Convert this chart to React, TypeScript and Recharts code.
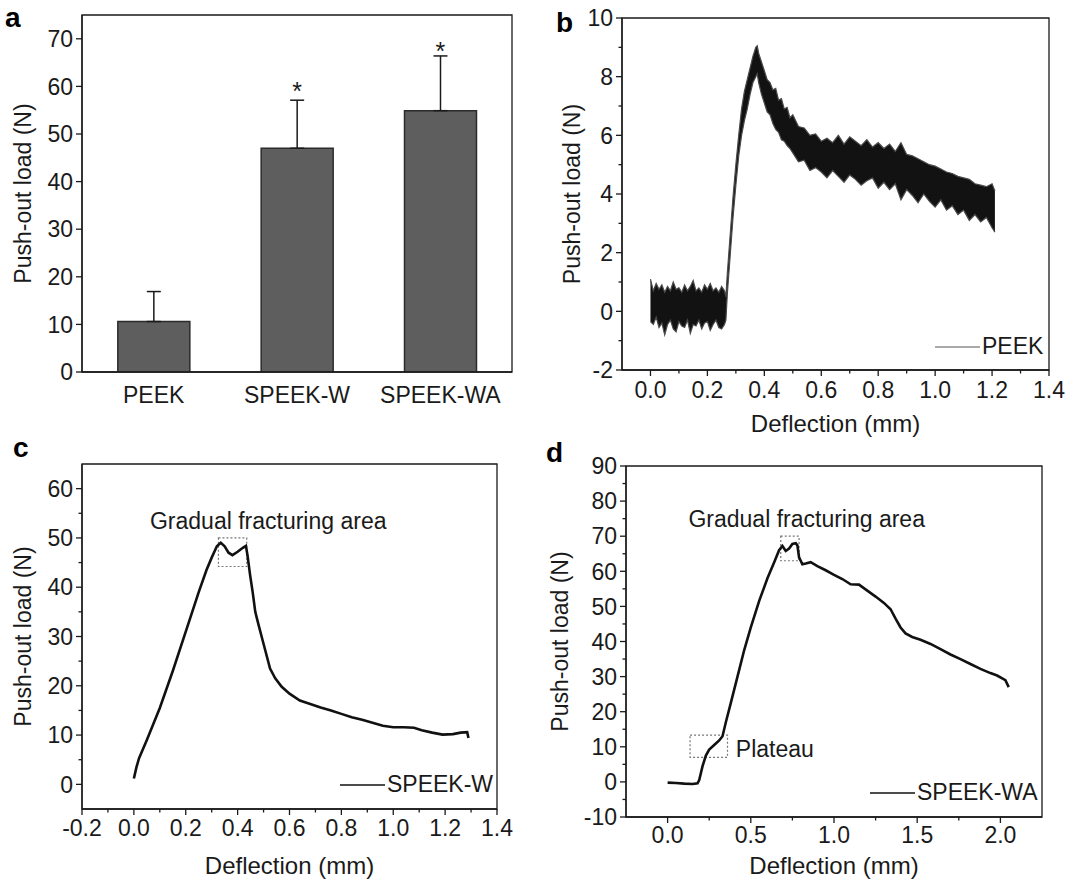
import React from 'react';
import {
  BarChart, Bar, ErrorBar, XAxis, YAxis, ComposedChart, Area, LineChart, Line,
  ReferenceArea, ReferenceDot, Legend,
} from 'recharts';

const FONT = '"Liberation Sans", Arial, Helvetica, sans-serif';
const INK = '#1a1a1a';
const TICK_FS = 23;
const TITLE_FS = 23;
const XTITLE_FS = 24;

// ---------- Panel a ----------
const barCategories = ['PEEK', 'SPEEK-W', 'SPEEK-WA'];
const barMeans = [10.6, 47.0, 54.9];
const barErrUp = [6.3, 10.1, 11.5];
const starHeights = [null, 59.8, 68.3];
const aYTicks = [0, 10, 20, 30, 40, 50, 60, 70];

// ---------- Panel b (PEEK, noisy band: lower / upper envelope) ----------
const bX = [
  0.00, 0.01, 0.02, 0.03, 0.04, 0.05, 0.06, 0.07, 0.08, 0.09, 0.10, 0.11, 0.12, 0.13,
  0.14, 0.15, 0.16, 0.17, 0.18, 0.19, 0.20, 0.21, 0.22, 0.23, 0.24, 0.25, 0.26,
  0.265, 0.27, 0.28, 0.29, 0.30, 0.31, 0.32, 0.33, 0.34, 0.35, 0.36, 0.37, 0.375,
  0.38, 0.39, 0.40, 0.41, 0.42, 0.43, 0.44, 0.45, 0.46, 0.47, 0.48, 0.49, 0.50,
  0.52, 0.54, 0.56, 0.58, 0.60, 0.62, 0.64, 0.66, 0.68, 0.70, 0.72, 0.74, 0.76, 0.78,
  0.80, 0.82, 0.84, 0.86, 0.88, 0.90, 0.92, 0.94, 0.96, 0.98, 1.00, 1.02, 1.04, 1.06,
  1.08, 1.10, 1.12, 1.14, 1.16, 1.18, 1.20, 1.21,
];
const bLow = [
  -0.35, -0.45, -0.2, -0.55, -0.4, -0.8, -0.45, -0.3, -0.6, -0.7, -0.35, -0.5, -0.55, -0.3,
  -0.75, -0.45, -0.5, -0.3, -0.6, -0.4, -0.35, -0.65, -0.45, -0.3, -0.55, -0.6, -0.45,
  -0.3, 0.6, 1.9, 3.2, 4.3, 5.3, 6.0, 6.5, 6.9, 7.4, 7.8, 8.0, 8.1,
  7.8, 7.4, 7.1, 6.8, 6.7, 6.4, 6.2, 6.1, 5.85, 5.8, 5.65, 5.55, 5.4,
  5.1, 5.15, 4.8, 4.9, 4.75, 4.55, 4.8, 4.6, 4.4, 4.65, 4.5, 4.3, 4.45, 4.55,
  4.2, 4.4, 4.15, 4.35, 3.8, 4.15, 3.95, 3.7, 4.0, 3.75, 3.55, 3.8, 3.45, 3.6,
  3.3, 3.45, 3.1, 3.3, 3.05, 3.2, 2.85, 2.7,
];
const bHigh = [
  1.1, 0.7, 0.95, 0.75, 0.9, 0.65, 0.85, 0.7, 1.0, 0.75, 0.8, 0.65, 0.9, 0.7,
  0.85, 1.05, 0.7, 0.8, 0.65, 0.9, 0.75, 0.95, 0.7, 0.8, 0.65, 0.85, 0.7,
  0.5, 1.3, 2.6, 3.9, 5.0, 6.0, 6.9, 7.5, 7.9, 8.3, 8.7, 9.0, 9.05,
  8.8, 8.5, 8.2, 7.9, 7.8, 7.55, 7.6, 7.2, 7.25, 6.9, 6.95, 6.6, 6.7,
  6.3, 6.25, 6.0, 6.05, 5.8, 5.9, 5.75, 6.0, 5.7, 5.95, 5.8, 5.65, 5.85, 5.6,
  5.75, 5.55, 5.7, 5.45, 5.75, 5.35, 5.3, 5.2, 5.1, 5.0, 4.95, 4.85, 4.75, 4.7,
  4.6, 4.55, 4.5, 4.35, 4.3, 4.25, 4.35, 4.1,
];
const bXTicks = [0, 0.1, 0.2, 0.3, 0.4, 0.5, 0.6, 0.7, 0.8, 0.9, 1.0, 1.1, 1.2, 1.3, 1.4];
const bXMajor = [0, 0.2, 0.4, 0.6, 0.8, 1.0, 1.2, 1.4];
const bYTicks = [-2, -1, 0, 1, 2, 3, 4, 5, 6, 7, 8, 9, 10];
const bYMajor = [-2, 0, 2, 4, 6, 8, 10];

// ---------- Panel c (SPEEK-W) ----------
const cX = [
  0.000, 0.010, 0.020, 0.050, 0.100, 0.150, 0.200, 0.250, 0.280, 0.300, 0.320, 0.335,
  0.350, 0.365, 0.380, 0.400, 0.420, 0.432, 0.438, 0.448, 0.458, 0.468, 0.480, 0.495,
  0.510, 0.525, 0.545, 0.570, 0.600, 0.640, 0.680, 0.720, 0.760, 0.800, 0.840, 0.880,
  0.920, 0.960, 1.000, 1.040, 1.080, 1.110, 1.150, 1.190, 1.230, 1.260, 1.285, 1.290,
];
const cY = [
  1.2, 3.5, 5.3, 9.0, 15.5, 23.0, 31.0, 39.0, 43.5, 46.0, 48.3, 49.0,
  48.3, 47.0, 46.5, 47.2, 48.0, 48.4, 46.5, 42.5, 39.0, 35.0, 32.5, 29.5,
  26.5, 23.5, 21.5, 19.8, 18.4, 17.0, 16.3, 15.6, 15.0, 14.3, 13.6, 13.1,
  12.5, 11.9, 11.6, 11.6, 11.5, 11.0, 10.5, 10.1, 10.2, 10.5, 10.6, 9.4,
];
const cXTicks = [-0.2, -0.1, 0, 0.1, 0.2, 0.3, 0.4, 0.5, 0.6, 0.7, 0.8, 0.9, 1.0, 1.1, 1.2, 1.3, 1.4];
const cXMajor = [-0.2, 0, 0.2, 0.4, 0.6, 0.8, 1.0, 1.2, 1.4];
const cYTicks = [0, 5, 10, 15, 20, 25, 30, 35, 40, 45, 50, 55, 60];
const cYMajor = [0, 10, 20, 30, 40, 50, 60];

// ---------- Panel d (SPEEK-WA) ----------
const dX = [
  0.00, 0.05, 0.10, 0.15, 0.18, 0.19, 0.21, 0.23, 0.25, 0.28, 0.31, 0.33, 0.35, 0.38,
  0.42, 0.46, 0.50, 0.55, 0.60, 0.64, 0.67, 0.69, 0.71, 0.73, 0.75, 0.77, 0.78, 0.79,
  0.81, 0.83, 0.86, 0.90, 0.95, 1.00, 1.05, 1.10, 1.15, 1.20, 1.25, 1.30, 1.34, 1.37,
  1.40, 1.43, 1.47, 1.52, 1.58, 1.64, 1.70, 1.76, 1.82, 1.88, 1.94, 1.98, 2.03, 2.05,
];
const dY = [
  -0.2, -0.3, -0.5, -0.6, -0.4, 0.5, 4.5, 7.5, 9.2, 10.5, 11.8, 13.0, 17.0, 22.5,
  30.0, 37.5, 44.0, 51.5, 58.0, 62.5, 66.0, 67.2, 65.8, 66.5, 67.8, 68.0, 67.4, 64.0,
  62.0, 62.2, 62.6, 61.5, 60.3, 59.0, 57.8, 56.3, 56.2, 54.5, 52.8, 51.0, 49.2, 46.5,
  44.0, 42.3, 41.3, 40.5, 39.3, 37.8, 36.3, 35.0, 33.6, 32.2, 31.0, 30.3, 29.0, 27.0,
];
const dXTicks = [0, 0.25, 0.5, 0.75, 1.0, 1.25, 1.5, 1.75, 2.0];
const dXMajor = [0, 0.5, 1.0, 1.5, 2.0];
const dYTicks = [-10, -5, 0, 5, 10, 15, 20, 25, 30, 35, 40, 45, 50, 55, 60, 65, 70, 75, 80, 85, 90];
const dYMajor = [-10, 0, 10, 20, 30, 40, 50, 60, 70, 80, 90];

const annotationText = 'Gradual fracturing area';
const plateauText = 'Plateau';

// ---------- helpers ----------
const near = (v: number, arr: number[]) => arr.some((m) => Math.abs(m - v) < 1e-6);

function yTick(major: number[], fmt: (v: number) => string) {
  return (props: any) => {
    const { x, y, payload } = props;
    const v = Number(payload.value);
    const isMajor = near(v, major);
    const len = isMajor ? 6 : 3.5;
    return (
      <g>
        <line x1={x - len} x2={x} y1={y} y2={y} stroke={INK} strokeWidth={1.3} />
        {isMajor ? (
          <text x={x - len - 3} y={y} dy="0.36em" textAnchor="end" fontSize={TICK_FS} fontFamily={FONT} fill={INK}>
            {fmt(v)}
          </text>
        ) : null}
      </g>
    );
  };
}

function xTick(major: number[], fmt: (v: number) => string, labelDy: number) {
  return (props: any) => {
    const { x, y, payload } = props;
    const v = Number(payload.value);
    const isMajor = near(v, major);
    const len = isMajor ? 6 : 3.5;
    return (
      <g>
        <line x1={x} x2={x} y1={y} y2={y + len} stroke={INK} strokeWidth={1.3} />
        {isMajor ? (
          <text x={x} y={y + labelDy} textAnchor="middle" fontSize={TICK_FS} fontFamily={FONT} fill={INK}>
            {fmt(v)}
          </text>
        ) : null}
      </g>
    );
  };
}

const catTick = (props: any) => (
  <text x={props.x} y={props.y + 31} textAnchor="middle" fontSize={TICK_FS} fontFamily={FONT} fill={INK}>
    {props.payload.value}
  </text>
);

function yTitle(text: string, cx: number) {
  return (p: any) => {
    const vb = p.viewBox || { y: 0, height: 0 };
    const cy = vb.y + vb.height / 2;
    return (
      <text x={cx} y={cy} dy="0.36em" transform={`rotate(-90 ${cx} ${cy})`} textAnchor="middle"
        fontSize={TITLE_FS} fontFamily={FONT} fill={INK}>
        {text}
      </text>
    );
  };
}

function xTitle(text: string, dy: number) {
  return (p: any) => {
    const vb = p.viewBox || { x: 0, y: 0, width: 0 };
    const cx = vb.x + vb.width / 2;
    return (
      <text x={cx} y={vb.y + dy} dy="0.36em" textAnchor="middle" fontSize={XTITLE_FS} fontFamily={FONT} fill={INK}>
        {text}
      </text>
    );
  };
}

function legendContent(fallback: string, stroke: string, sw: number) {
  return (props: any) => {
    const name = props?.payload?.[0]?.value ?? fallback;
    return (
      <div style={{ display: 'flex', alignItems: 'center', whiteSpace: 'nowrap', fontFamily: FONT,
        fontSize: TITLE_FS, color: INK, lineHeight: 1 }}>
        <svg width={45} height={6} style={{ display: 'block' }}>
          <line x1={0} x2={45} y1={3} y2={3} stroke={stroke} strokeWidth={sw} />
        </svg>
        <span style={{ marginLeft: 2 }}>{name}</span>
      </div>
    );
  };
}

function textShape(text: string, anchor: 'start' | 'middle') {
  return (p: any) => (
    <text x={p.cx} y={p.cy} dy="0.36em" textAnchor={anchor} fontSize={TITLE_FS} fontFamily={FONT} fill={INK}>
      {text}
    </text>
  );
}

const starShape = (p: any) => (
  <text x={p.cx} y={p.cy + 13} textAnchor="middle" fontSize={25} fontFamily={FONT} fill={INK}>*</text>
);

const axisLine = { stroke: INK, strokeWidth: 1.3 };
const frame = { fill: 'none', stroke: INK, strokeWidth: 1.3, fillOpacity: 0 };
const dotted = { fill: 'none', fillOpacity: 0, stroke: '#777', strokeWidth: 1.2, strokeDasharray: '2 2' };

// ---------- data tables ----------
const aData = barCategories.map((name, i) => ({ name, value: barMeans[i], err: [0, barErrUp[i]] }));
const bData = bX.map((x, i) => ({ x, band: [bLow[i], bHigh[i]] }));
const cData = cX.map((x, i) => ({ x, y: cY[i] }));
const dData = dX.map((x, i) => ({ x, y: dY[i] }));

const fmt1 = (v: number) => v.toFixed(1);
const fmt0 = (v: number) => String(v);

function PanelA() {
  return (
    <BarChart width={540} height={440} data={aData} margin={{ top: 15, right: 28, bottom: 18, left: 0 }}
      barCategoryGap="25%" style={{ fontFamily: FONT }}>
      <XAxis dataKey="name" tickSize={0} tickMargin={0} tickLine={false} axisLine={axisLine} tick={catTick}
        height={50} interval={0} />
      <YAxis type="number" domain={[0, 75]} ticks={aYTicks} allowDataOverflow width={82} tickSize={0} tickMargin={0}
        tickLine={false} axisLine={axisLine} tick={yTick(aYTicks, fmt0)} interval={0}
        label={{ content: yTitle('Push-out load (N)', 23) }} />
      <ReferenceArea x1="PEEK" x2="SPEEK-WA" y1={0} y2={75} {...frame} />
      <Bar dataKey="value" fill="#5e5e5e" stroke="#2b2b2b" strokeWidth={1.5} isAnimationActive={false}>
        <ErrorBar dataKey="err" width={7} stroke={INK} strokeWidth={1.5} direction="y" isAnimationActive={false} />
      </Bar>
      {barCategories.map((c, i) =>
        starHeights[i] == null ? null : (
          <ReferenceDot key={c} x={c} y={starHeights[i] as number} r={0} shape={starShape} />
        ),
      )}
    </BarChart>
  );
}

function PanelB() {
  return (
    <ComposedChart width={536} height={440} data={bData} margin={{ top: 18, right: 27, bottom: 0, left: 0 }}
      style={{ fontFamily: FONT }}>
      <XAxis dataKey="x" type="number" domain={[-0.1, 1.4]} ticks={bXTicks} allowDataOverflow tickSize={0}
        tickMargin={0} tickLine={false} axisLine={axisLine} tick={xTick(bXMajor, fmt1, 28)} interval={0}
        height={70} label={{ content: xTitle('Deflection (mm)', 53) }} />
      <YAxis type="number" domain={[-2, 10]} ticks={bYTicks} allowDataOverflow width={82} tickSize={0}
        tickMargin={0} tickLine={false} axisLine={axisLine} tick={yTick(bYMajor, fmt0)} interval={0}
        label={{ content: yTitle('Push-out load (N)', 32) }} />
      <ReferenceArea x1={-0.1} x2={1.4} y1={-2} y2={10} {...frame} />
      <Area dataKey="band" name="PEEK" type="linear" stroke="#4a4a4a" strokeWidth={1.2} fill="#121212"
        fillOpacity={1} isAnimationActive={false} dot={false} activeDot={false} />
      <Legend layout="vertical" align="center" verticalAlign="middle" content={legendContent('PEEK', '#555', 1)}
        wrapperStyle={{ left: 395, top: 335, width: 160, height: 26 }} />
    </ComposedChart>
  );
}

function PanelC() {
  return (
    <LineChart width={540} height={441} data={cData} margin={{ top: 24, right: 43, bottom: 0, left: 0 }}
      style={{ fontFamily: FONT }}>
      <XAxis dataKey="x" type="number" domain={[-0.2, 1.4]} ticks={cXTicks} allowDataOverflow tickSize={0}
        tickMargin={0} tickLine={false} axisLine={axisLine} tick={xTick(cXMajor, fmt1, 27)} interval={0}
        height={72} label={{ content: xTitle('Deflection (mm)', 56) }} />
      <YAxis type="number" domain={[-5, 65]} ticks={cYTicks} allowDataOverflow width={82} tickSize={0}
        tickMargin={0} tickLine={false} axisLine={axisLine} tick={yTick(cYMajor, fmt0)} interval={0}
        label={{ content: yTitle('Push-out load (N)', 23) }} />
      <ReferenceArea x1={-0.2} x2={1.4} y1={-5} y2={65} {...frame} />
      <ReferenceArea x1={0.326} x2={0.435} y1={44.2} y2={50.0} {...dotted} />
      <Line dataKey="y" name="SPEEK-W" type="linear" stroke="#111" strokeWidth={2.6} dot={false}
        activeDot={false} isAnimationActive={false} />
      <ReferenceDot x={0.518} y={53.5} r={0} shape={textShape(annotationText, 'middle')} />
      <Legend layout="vertical" align="center" verticalAlign="middle" content={legendContent('SPEEK-W', '#111', 1.6)}
        wrapperStyle={{ left: 340, top: 333, width: 180, height: 26 }} />
    </LineChart>
  );
}

function PanelD() {
  return (
    <LineChart width={546} height={441} data={dData} margin={{ top: 26, right: 34, bottom: 0, left: 0 }}
      style={{ fontFamily: FONT }}>
      <XAxis dataKey="x" type="number" domain={[-0.25, 2.25]} ticks={dXTicks} allowDataOverflow tickSize={0}
        tickMargin={0} tickLine={false} axisLine={axisLine} tick={xTick(dXMajor, fmt1, 26)} interval={0}
        height={64} label={{ content: xTitle('Deflection (mm)', 48) }} />
      <YAxis type="number" domain={[-10, 90]} ticks={dYTicks} allowDataOverflow width={96} tickSize={0}
        tickMargin={0} tickLine={false} axisLine={axisLine} tick={yTick(dYMajor, fmt0)} interval={0}
        label={{ content: yTitle('Push-out load (N)', 30) }} />
      <ReferenceArea x1={-0.25} x2={2.25} y1={-10} y2={90} {...frame} />
      <ReferenceArea x1={0.68} x2={0.79} y1={63.0} y2={70.0} {...dotted} />
      <ReferenceArea x1={0.135} x2={0.36} y1={7.0} y2={13.3} {...dotted} />
      <Line dataKey="y" name="SPEEK-WA" type="linear" stroke="#111" strokeWidth={2.6} dot={false}
        activeDot={false} isAnimationActive={false} />
      <ReferenceDot x={0.836} y={75.0} r={0} shape={textShape(annotationText, 'middle')} />
      <ReferenceDot x={0.41} y={9.5} r={0} shape={textShape(plateauText, 'start')} />
      <Legend layout="vertical" align="center" verticalAlign="middle" content={legendContent('SPEEK-WA', '#111', 1.6)}
        wrapperStyle={{ left: 340, top: 341, width: 200, height: 26 }} />
    </LineChart>
  );
}

export default function App() {
  const letter = { fontFamily: FONT, fontWeight: 700, fontSize: 28, fill: '#000' } as const;
  return (
    <div style={{ position: 'absolute', left: 0, top: 0, width: 1076, height: 881, background: '#fff', overflow: 'hidden' }}>
      <div style={{ position: 'absolute', left: 0, top: 0 }}><PanelA /></div>
      <div style={{ position: 'absolute', left: 540, top: 0 }}><PanelB /></div>
      <div style={{ position: 'absolute', left: 0, top: 440 }}><PanelC /></div>
      <div style={{ position: 'absolute', left: 530, top: 440 }}><PanelD /></div>
      <svg width={1076} height={881} style={{ position: 'absolute', left: 0, top: 0, pointerEvents: 'none' }}>
        <text x={5} y={27} {...letter}>a</text>
        <text x={556} y={32} {...letter}>b</text>
        <text x={13} y={457} {...letter}>c</text>
        <text x={546} y={462} {...letter}>d</text>
      </svg>
    </div>
  );
}
